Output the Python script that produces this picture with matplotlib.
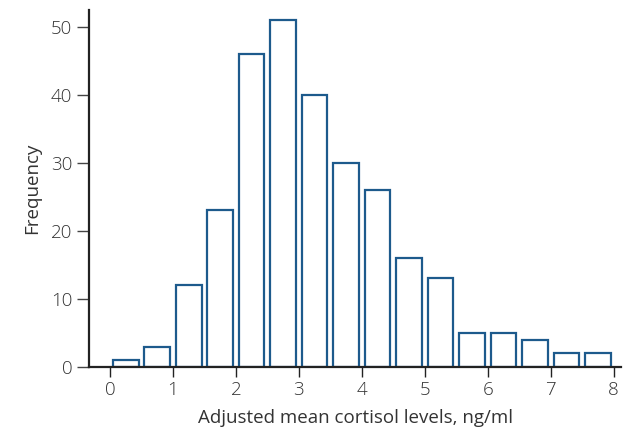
import matplotlib
matplotlib.use("Agg")
import matplotlib.pyplot as plt

# histogram of adjusted mean cortisol, bins of 0.5 ng/ml
bin_left = [0.0, 0.5, 1.0, 1.5, 2.0, 2.5, 3.0, 3.5, 4.0, 4.5, 5.0, 5.5, 6.0, 6.5, 7.0, 7.5]
counts = [1, 3, 12, 23, 46, 51, 40, 30, 26, 16, 13, 5, 5, 4, 2, 2]
xticks = [0, 1, 2, 3, 4, 5, 6, 7, 8]
yticks = [0, 10, 20, 30, 40, 50]

plt.rcParams['font.family'] = ['Open Sans', 'DejaVu Sans']
plt.rcParams['font.weight'] = 'light'

fig = plt.figure(figsize=(6.32, 4.48), dpi=100)
ax = fig.add_axes([0.141, 0.181, 0.842, 0.797])

centers = [b + 0.25 for b in bin_left]
ax.bar(centers, counts, width=0.41, facecolor="white", edgecolor="#1d5a8c", linewidth=1.6)

ax.set_xlim(-0.33, 8.12)
ax.set_ylim(0, 52.5)
ax.set_xticks(xticks)
ax.set_yticks(yticks)

for s in ["top", "right"]:
    ax.spines[s].set_visible(False)
for s in ["left", "bottom"]:
    ax.spines[s].set_linewidth(1.6)
    ax.spines[s].set_color("#222222")

ax.tick_params(axis="both", labelsize=13.5, colors="#333333", length=7, width=1.0, pad=3)
ax.tick_params(axis="x", color="#222222")
ax.tick_params(axis="y", color="#444444", length=9)

ax.set_xlabel("Adjusted mean cortisol levels, ng/ml", fontsize=13.5, color="#333333", labelpad=7)
ax.set_ylabel("Frequency", fontsize=13.5, color="#333333", labelpad=7)

fig.savefig("out.png", dpi=100)
